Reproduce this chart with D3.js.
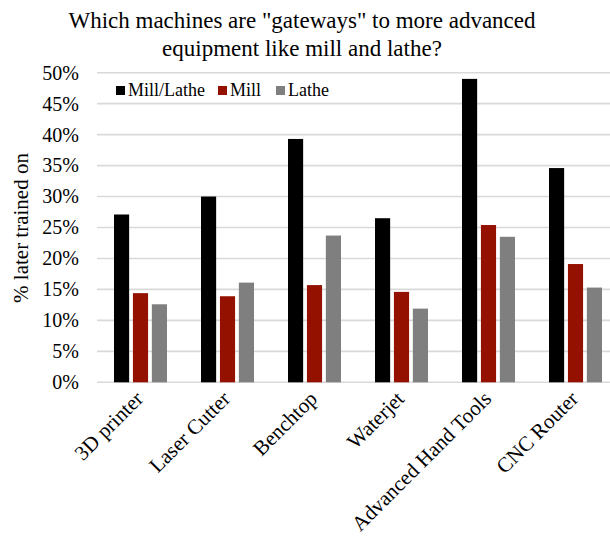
<!DOCTYPE html>
<html>
<head>
<meta charset="utf-8">
<script src="https://cdn.jsdelivr.net/npm/d3@7"></script>
<style>
  body { margin: 0; background: #fff; }
</style>
</head>
<body>
<script>
var categories = ["3D printer", "Laser Cutter", "Benchtop", "Waterjet", "Advanced Hand Tools", "CNC Router"];
var seriesNames = ["Mill/Lathe", "Mill", "Lathe"];
var millLathe = [27.1, 30.0, 39.3, 26.5, 49.0, 34.6];
var mill = [14.4, 13.9, 15.7, 14.6, 25.4, 19.1];
var lathe = [12.6, 16.1, 23.7, 11.9, 23.5, 15.3];
var colors = ["#000000", "#941100", "#7f7f7f"];
var yTicks = [0, 5, 10, 15, 20, 25, 30, 35, 40, 45, 50];

var serif = "'Liberation Serif', 'Times New Roman', serif";
var width = 610, height = 544;
var svg = d3.select("body").append("svg")
    .attr("width", width)
    .attr("height", height);

var x = d3.scaleBand().domain(categories).range([97, 619]);
var xs = d3.scaleBand().domain(seriesNames).range([17, 70]).paddingInner(0.2);
var y = d3.scaleLinear().domain([0, 50]).range([382.3, 72.7]);

// gridlines
svg.append("g")
  .selectAll("line")
  .data(yTicks)
  .enter().append("line")
    .attr("x1", 97).attr("x2", width)
    .attr("y1", function(d) { return y(d); })
    .attr("y2", function(d) { return y(d); })
    .attr("stroke", "#d9d9d9")
    .attr("stroke-width", 1.6);

// y axis labels
var yAxis = d3.axisLeft(y).tickValues(yTicks).tickSize(0).tickPadding(0)
  .tickFormat(function(d) { return d + "%"; });
var ya = svg.append("g").attr("transform", "translate(79,0)").call(yAxis);
ya.select(".domain").remove();
ya.selectAll("text").attr("fill", "#000").style("font-size", "20px");

// bars
var rows = categories.map(function(c, i) {
  return { cat: c, vals: [millLathe[i], mill[i], lathe[i]] };
});
var groups = svg.append("g").selectAll("g")
  .data(rows)
  .enter().append("g")
    .attr("transform", function(d) { return "translate(" + x(d.cat) + ",0)"; });

groups.selectAll("rect")
  .data(function(d) {
    return d.vals.map(function(v, j) { return { s: seriesNames[j], v: v, j: j }; });
  })
  .enter().append("rect")
    .attr("x", function(d) { return xs(d.s); })
    .attr("width", xs.bandwidth())
    .attr("y", function(d) { return y(d.v); })
    .attr("height", function(d) { return y(0) - y(d.v); })
    .attr("fill", function(d) { return colors[d.j]; });

// x labels
svg.append("g").selectAll("text")
  .data(categories)
  .enter().append("text")
    .attr("transform", function(d) {
      return "translate(" + (x(d) + x.bandwidth() / 2 + 4) + ",400) rotate(-45)";
    })
    .attr("text-anchor", "end")
    .style("font-size", "21px")
    .text(function(d) { return d; });

// y title
svg.append("text")
  .attr("transform", "translate(28,228) rotate(-90)")
  .attr("text-anchor", "middle")
  .style("font-size", "21px")
  .text("% later trained on");

// title
var title = svg.append("text")
  .attr("text-anchor", "middle")
  .style("font-size", "23px");
title.append("tspan").attr("x", 302).attr("y", 28)
  .text("Which machines are \"gateways\" to more advanced");
title.append("tspan").attr("x", 302).attr("y", 56)
  .text("equipment like mill and lathe?");

// legend
var legendX = [116, 218, 276];
var legend = svg.append("g").selectAll("g")
  .data(seriesNames)
  .enter().append("g")
    .attr("transform", function(d, i) { return "translate(" + legendX[i] + ",90)"; });
legend.append("rect")
  .attr("x", 0).attr("y", -4).attr("width", 9).attr("height", 9)
  .attr("fill", function(d, i) { return colors[i]; });
legend.append("text")
  .attr("x", 12).attr("y", 6)
  .style("font-size", "18px")
  .text(function(d) { return d; });

// every label in serif
svg.selectAll("text")
  .style("font-family", serif)
  .style("fill", "#000");
</script>
</body>
</html>
